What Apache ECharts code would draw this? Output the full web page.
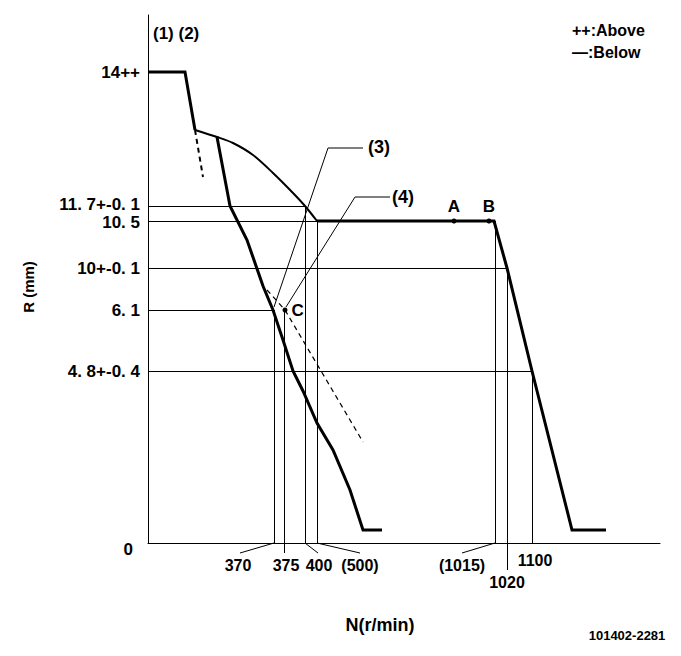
<!DOCTYPE html>
<html><head><meta charset="utf-8">
<script src="https://cdn.jsdelivr.net/npm/echarts@6/dist/echarts.min.js"></script>
<style>html,body{margin:0;padding:0;background:#fff}#c{width:681px;height:656px}</style>
</head><body><div id="c"></div>
<script>
// The drawing is a schematic (not to scale): all values are in drawing units.
// R axis tick labels and their schematic heights
const rTickLabels = ['14++', '11. 7+-0. 1', '10. 5', '10+-0. 1', '6. 1', '4. 8+-0. 4', '0'];
const rTickPos = [471, 337, 322, 275, 233, 172, 0];
// N axis tick labels, schematic positions of their guide lines, and where the text sits
const nTickLabels = ['370', '375', '400', '(500)', '(1015)', '1020', '1100'];
const nTickPos = [126, 136, 157, 169, 347, 359, 384];
const nTickTop = [233, 233, 337, 322, 322, 275, 172];
const nTickBottom = [0, -10, 0, 0, 0, -27, 0];
const nLabelAt = [[90, -22], [138, -22], [171, -22], [212, -22], [314, -22], [359, -39], [387, -17]];
const nLeaders = [[[126, 0], [92, -10]], [[157, 0], [170, -10]], [[169, 0], [212, -10]], [[347, 0], [314, -10]]];
// horizontal guide lines: [R level, from N, to N]
const rGuides = [[337, 0, 157], [322, 0, 169], [275, 0, 359], [233, 0, 125], [172, 0, 384]];

// characteristic curves
const fullLoad = [[0, 471], [37, 471], [47, 413]];
const torqueArc = [[47, 413], [69, 406], [85, 400], [105, 388], [125, 370], [145, 350], [157, 337], [169, 322]];
const idleCurve = [[69, 406], [82, 337], [99, 303], [115, 257], [125, 233], [135, 203], [145, 172], [155, 152], [169, 120], [185, 93], [202, 53], [215, 13], [234, 13]];
const governorCurve = [[169, 322], [346, 322], [359, 275], [384, 172], [424, 13], [458, 13]];
const dashA = [[47, 413], [55, 366]];
const dashB = [[119, 253], [137, 233], [215, 101]];
// marked points
const pointNames = ['A', 'B', 'C'];
const pointVals = [[306, 322], [341, 322], [137, 233]];
// callouts
const calloutNames = ['(3)', '(4)'];
const calloutLines = [[[215, 395], [180, 395], [126, 236]], [[242, 346], [207, 346], [138, 236]]];
const calloutText = [[231, 396], [255, 346]];

const FONT = "'Liberation Sans',Arial,sans-serif";
const K = '#000';

const guideSegs = [];
rGuides.forEach(g => guideSegs.push({coords: [[g[1], g[0]], [g[2], g[0]]]}));
nTickPos.forEach((x, i) => guideSegs.push({coords: [[x, nTickTop[i]], [x, nTickBottom[i]]]}));
nLeaders.forEach(l => guideSegs.push({coords: l}));

const curve = (data, w, dash, smooth) => ({
  type: 'line', data: data, symbol: 'none', clip: false, silent: true, smooth: smooth || false,
  lineStyle: {color: K, width: w, type: dash ? [5, 4] : 'solid', cap: 'butt', join: 'miter'}
});

const chart = echarts.init(document.getElementById('c'), null, {renderer: 'svg', width: 681, height: 656});
const lab = {color: K, fontFamily: FONT, fontSize: 17, fontWeight: 'bold', lineHeight: 14};
chart.setOption({
  animation: false,
  backgroundColor: '#fff',
  grid: {left: 148, top: 15, width: 512, height: 528},
  xAxis: {
    type: 'value', min: 0, max: 512,
    axisLine: {show: true, lineStyle: {color: K, width: 1}},
    axisTick: {show: false}, axisLabel: {show: false}, splitLine: {show: false}
  },
  yAxis: {
    type: 'value', min: 0, max: 528,
    axisLine: {show: true, lineStyle: {color: K, width: 1}},
    axisTick: {show: false}, splitLine: {show: false},
    axisLabel: Object.assign({}, lab, {
      customValues: rTickPos, margin: 8,
      formatter: v => v === 0 ? '{z|0}' : (v === 337 ? '{u|' + rTickLabels[1] + '}' : (v === 322 ? '{d|' + rTickLabels[2] + '}' : rTickLabels[rTickPos.indexOf(v)])),
      rich: {
        z: Object.assign({}, lab, {padding: [12, 7, 0, 0]}),
        u: Object.assign({}, lab, {padding: [0, 0, 3, 0]}),
        d: Object.assign({}, lab, {padding: [2, 0, 0, 0]})
      }
    })
  },
  graphic: [
    {type: 'text', x: 153, y: 33, style: {text: '(1) (2)', fill: K, font: 'bold 17px ' + FONT, verticalAlign: 'middle'}},
    {type: 'text', x: 572, y: 30, style: {text: '++:Above', fill: K, font: 'bold 16px ' + FONT, verticalAlign: 'middle'}},
    {type: 'text', x: 572, y: 52, style: {text: '—:Below', fill: K, font: 'bold 16px ' + FONT, verticalAlign: 'middle'}},
    {type: 'text', x: 28, y: 287, rotation: Math.PI / 2, style: {text: 'R (mm)', fill: K, font: 'bold 15px ' + FONT, align: 'center', verticalAlign: 'middle'}},
    {type: 'text', x: 380, y: 625, style: {text: 'N(r/min)', fill: K, font: 'bold 18px ' + FONT, align: 'center', verticalAlign: 'middle'}},
    {type: 'text', x: 627, y: 635, style: {text: '101402-2281', fill: K, font: 'bold 13px ' + FONT, align: 'center', verticalAlign: 'middle'}}
  ],
  series: [
    {type: 'lines', coordinateSystem: 'cartesian2d', clip: false, silent: true, data: guideSegs,
     lineStyle: {color: K, width: 1, opacity: 1}},
    curve(fullLoad, 3),
    curve(torqueArc, 2, false, 0.3),
    curve(idleCurve, 3),
    curve(governorCurve, 3),
    curve(dashA, 2, true),
    curve(dashB, 1.2, true),
    {type: 'lines', coordinateSystem: 'cartesian2d', polyline: true, clip: false, silent: true,
     symbol: ['none', 'arrow'], symbolSize: 8,
     data: calloutLines.map(c => ({coords: c})),
     lineStyle: {color: K, width: 1, opacity: 1}},
    {type: 'scatter', clip: false, silent: true, symbolSize: 5, itemStyle: {color: K, opacity: 1},
     data: pointVals.map((p, i) => ({value: p, name: pointNames[i],
       label: {show: true, formatter: pointNames[i], position: i < 2 ? 'top' : 'right', distance: 4,
               color: K, opacity: 1, fontFamily: FONT, fontSize: 17, fontWeight: 'bold'}}))},
    {type: 'scatter', clip: false, silent: true, symbolSize: 0, itemStyle: {color: K, opacity: 1},
     data: nLabelAt.map((p, i) => ({value: p, label: {show: true, formatter: nTickLabels[i]}})),
     label: {position: 'inside', color: K, opacity: 1, fontFamily: FONT, fontSize: 16, fontWeight: 'bold'}},
    {type: 'scatter', clip: false, silent: true, symbolSize: 0, itemStyle: {color: K, opacity: 1},
     data: calloutText.map((p, i) => ({value: p, label: {show: true, formatter: calloutNames[i]}})),
     label: {position: 'inside', color: K, opacity: 1, fontFamily: FONT, fontSize: 18, fontWeight: 'bold'}}
  ]
});
</script></body></html>
